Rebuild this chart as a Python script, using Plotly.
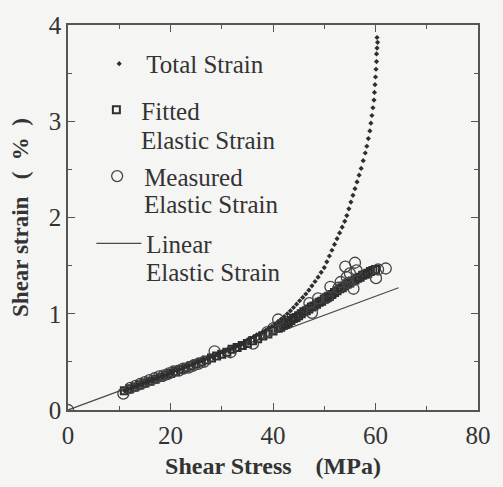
import plotly.graph_objects as go

# ---- data ----
total_x = [11.0, 11.6, 12.2, 12.8, 13.4, 14.0, 14.6, 15.2, 15.8, 16.4, 17.0, 17.6, 18.2, 18.8, 19.4,
           20.0, 20.6, 21.2, 21.8, 22.4, 23.0, 23.6, 24.2, 24.8, 25.4, 26.0, 26.6, 27.2, 27.8, 28.4,
           29.0, 29.6, 30.2, 30.8, 31.4, 32.0, 32.6, 33.2, 33.8, 34.4, 35.0, 35.6, 36.2, 36.8, 37.4,
           38.0, 38.6, 39.2, 39.8, 40.4, 41.0, 41.6, 42.2, 42.8, 43.4, 44.0, 44.6, 45.2, 45.8, 46.4,
           47.0, 47.6, 48.2, 48.8, 49.4, 50.0, 50.5, 51.0, 51.5, 52.0, 52.5, 53.0, 53.5, 54.0, 54.4,
           54.8, 55.2, 55.6, 56.0, 56.4, 56.8, 57.2, 57.6, 58.0, 58.3, 58.6, 58.9, 59.1, 59.3, 59.5,
           59.7, 59.8, 59.9, 60.0, 60.1, 60.2, 60.2, 60.3, 60.4, 60.3]
total_y = [0.20, 0.21, 0.22, 0.235, 0.25, 0.26, 0.27, 0.285, 0.30, 0.31, 0.32, 0.335, 0.35, 0.36, 0.37,
           0.385, 0.40, 0.41, 0.42, 0.435, 0.45, 0.46, 0.47, 0.485, 0.50, 0.51, 0.52, 0.535, 0.55, 0.56,
           0.575, 0.59, 0.60, 0.615, 0.63, 0.64, 0.655, 0.67, 0.685, 0.70, 0.73, 0.745, 0.76, 0.78, 0.795,
           0.81, 0.83, 0.85, 0.87, 0.895, 0.92, 0.945, 0.97, 1.00, 1.03, 1.065, 1.10, 1.135, 1.17, 1.205,
           1.245, 1.29, 1.335, 1.38, 1.43, 1.48, 1.54, 1.60, 1.66, 1.72, 1.78, 1.84, 1.90, 1.96, 2.02,
           2.09, 2.16, 2.23, 2.30, 2.37, 2.44, 2.51, 2.59, 2.67, 2.74, 2.82, 2.90, 2.98, 3.06, 3.14,
           3.22, 3.30, 3.38, 3.46, 3.54, 3.62, 3.70, 3.76, 3.82, 3.87]

fitted_x = [11, 12, 13, 14, 15, 16, 17, 18, 19, 20, 21, 22, 23, 24, 25, 26, 27, 28, 29, 30,
            31, 32, 33, 34, 35, 36, 37, 38, 39, 40, 41, 41.5, 42, 42.5, 43, 43.5, 44, 44.5, 45, 45.5,
            46, 46.5, 47, 47.5, 48, 48.5, 49, 49.5, 50, 50.5, 51, 51.5, 52, 52.5, 53, 53.5, 54, 54.5,
            55, 55.5, 56, 56.5, 57, 57.5, 58, 58.5, 59, 59.5, 60]
fitted_y = [0.20, 0.22, 0.24, 0.26, 0.28, 0.30, 0.32, 0.34, 0.36, 0.38, 0.40, 0.42, 0.44, 0.46, 0.48,
            0.50, 0.52, 0.54, 0.56, 0.58, 0.60, 0.63, 0.65, 0.67, 0.69, 0.72, 0.74, 0.77, 0.79, 0.82,
            0.85, 0.86, 0.88, 0.89, 0.91, 0.93, 0.95, 0.96, 0.98, 1.00, 1.02, 1.03, 1.05, 1.07, 1.08,
            1.10, 1.12, 1.13, 1.15, 1.17, 1.18, 1.20, 1.22, 1.24, 1.26, 1.27, 1.29, 1.31, 1.32, 1.34,
            1.35, 1.37, 1.38, 1.40, 1.41, 1.42, 1.44, 1.45, 1.46]

measured_x = [0.0, 10.8, 12.2, 13.2, 14.1, 15.0, 15.9, 16.9, 17.8, 18.7, 19.7, 20.6, 21.6, 22.5, 23.5,
              24.4, 25.4, 26.5, 28.6, 31.7, 36.1, 38.9, 40.1, 41.0, 47.1, 47.6, 48.8, 50.6, 51.2, 52.8,
              53.2, 54.1, 54.4, 54.7, 55.0, 55.7, 56.0, 56.3, 60.1, 60.5, 62.0]
measured_y = [0.0, 0.17, 0.23, 0.25, 0.27, 0.29, 0.31, 0.33, 0.35, 0.36, 0.38, 0.40, 0.41, 0.43, 0.44,
              0.46, 0.48, 0.50, 0.61, 0.60, 0.69, 0.81, 0.85, 0.94, 1.11, 1.01, 1.16, 1.17, 1.28, 1.27,
              1.33, 1.49, 1.38, 1.32, 1.42, 1.26, 1.53, 1.45, 1.37, 1.46, 1.47]

linear_x = [0.0, 64.5]
linear_y = [0.0, 1.27]

x_ticks = [0, 20, 40, 60, 80]
y_ticks = [0, 1, 2, 3, 4]

INK = "#333333"
BG = "#f5f5f3"
FONT = "Liberation Serif, Times New Roman, serif"

fig = go.Figure()
fig.add_trace(go.Scatter(x=linear_x, y=linear_y, mode="lines", name="Linear",
                         line=dict(color="#4a4a4a", width=1.3), legend="legend4"))
fig.add_trace(go.Scatter(x=fitted_x, y=fitted_y, mode="markers", name="Fitted",
                         marker=dict(symbol="square-open", size=7, color="#2e2e2e",
                                     line=dict(width=2)), legend="legend2"))
fig.add_trace(go.Scatter(x=measured_x, y=measured_y, mode="markers", name="Measured",
                         marker=dict(symbol="circle-open", size=11, color="#444444",
                                     line=dict(width=1.3)), legend="legend3"))
fig.add_trace(go.Scatter(x=total_x, y=total_y, mode="markers", name="Total Strain",
                         marker=dict(symbol="diamond", size=4, color="#2e2e2e"), legend="legend",
                         showlegend=True))


def leg(x, y, w):
    return dict(x=x, y=y, xanchor="left", yanchor="middle", itemwidth=w,
                font=dict(family=FONT, size=25, color=INK), bgcolor="rgba(0,0,0,0)",
                borderwidth=0)


def elastic(x, y):
    return dict(text="Elastic Strain", xref="paper", yref="paper", x=x, y=y,
                xanchor="left", yanchor="middle", showarrow=False,
                font=dict(family=FONT, size=25, color=INK))


axis_common = dict(ticks="inside", ticklen=7, tickwidth=1.3, tickcolor="#555",
                   showline=True, linecolor="#555", linewidth=1.5, mirror="ticks",
                   showgrid=False, zeroline=False,
                   tickfont=dict(family=FONT, size=25, color=INK))

fig.update_layout(
    width=503, height=487,
    margin=dict(l=68, r=12, t=17, b=76),
    paper_bgcolor=BG, plot_bgcolor=BG,
    font=dict(family=FONT, color=INK),
    showlegend=True,
    legend=leg(0.059, 0.899, 44),
    legend2=leg(0.057, 0.779, 40),
    legend3=leg(0.054, 0.607, 44),
    legend4=leg(0.057, 0.432, 45),
    xaxis=dict(range=[0, 80], tickvals=x_ticks, ticklabelstandoff=2,
               minor=dict(dtick=10, ticks="inside", ticklen=4, tickcolor="#555", tickwidth=1.2),
               title=dict(text="<b>Shear Stress</b>    <b>(MPa)</b>",
                          font=dict(family=FONT, size=24, color=INK), standoff=9),
               **axis_common),
    yaxis=dict(range=[0, 4], tickvals=y_ticks,
               minor=dict(dtick=0.5, ticks="inside", ticklen=4, tickcolor="#555", tickwidth=1.2),
               title=dict(text="<b>Shear strain</b>   <b>(  %  )</b>",
                          font=dict(family=FONT, size=23, color=INK), standoff=14),
               **axis_common),
    annotations=[
        elastic(0.172, 0.701),
        elastic(0.180, 0.533),
        elastic(0.185, 0.356),
    ],
)

fig.write_html("out.html")
